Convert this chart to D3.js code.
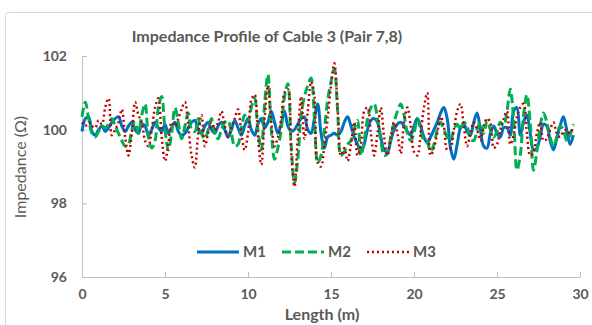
<!DOCTYPE html>
<html>
<head>
<meta charset="utf-8">
<script src="https://cdn.jsdelivr.net/npm/d3@7"></script>
<style>
  body { margin: 0; background: #fff; }
  text { font-family: Lato, "Open Sans", sans-serif; fill: #595959; }
</style>
</head>
<body>
<div id="chart"></div>
<script>
// cable length positions (m), one every 0.2 m
const lengths = d3.range(0, 149).map(i => +(i * 0.2).toFixed(1));

const m1 = [99.95,100.3,100.35,99.95,99.85,100.0,100.1,99.95,100.05,100.2,
  100.3,100.35,100.1,99.95,100.1,100.2,100.0,99.9,100.15,100.1,
  99.85,100.0,100.2,100.05,99.95,100.15,99.9,100.05,100.2,99.95,
  99.85,99.9,100.05,100.2,100.25,100.0,99.9,100.1,100.2,100.0,
  99.9,100.1,100.2,100.0,99.8,100.0,100.25,100.05,99.85,100.1,
  100.3,100.0,99.85,100.15,100.3,100.05,100.2,100.5,100.2,99.9,
  100.15,100.5,100.1,99.95,100.0,100.15,100.3,100.35,100.0,99.9,
  100.3,100.7,99.9,99.5,99.8,99.85,99.9,99.85,99.95,100.2,
  100.35,100.1,99.8,99.6,99.4,99.6,100.0,100.25,100.3,100.2,
  99.8,99.45,99.4,99.7,100.0,100.15,100.2,100.1,99.95,99.85,
  100.1,100.3,100.1,99.8,99.65,99.8,100.0,100.2,100.45,100.6,
  100.3,99.5,99.2,99.6,100.05,100.15,99.95,99.85,100.2,100.45,
  100.0,99.55,99.5,99.9,100.1,99.9,99.8,100.05,100.05,99.85,
  100.5,100.6,99.85,100.2,100.4,99.9,99.45,99.5,99.8,100.15,
  100.1,99.7,99.45,99.75,100.1,100.35,100.0,99.6,99.85];

const m2 = [100.35,100.75,100.3,99.9,99.8,99.95,100.1,100.05,100.15,100.3,
  100.1,99.9,99.7,99.55,99.6,100.0,100.2,99.9,100.4,100.7,
  99.8,99.5,99.7,100.6,100.9,100.0,99.45,99.9,100.6,100.2,
  99.75,100.1,100.45,100.0,99.95,100.3,99.9,99.75,100.0,100.3,
  99.9,99.75,100.0,100.2,100.25,99.9,99.55,99.6,100.05,100.4,
  100.2,100.6,100.85,100.0,99.45,100.7,101.5,100.0,99.2,99.5,
  100.0,100.9,101.25,99.6,98.55,99.2,100.4,100.9,101.2,101.4,
  100.3,99.1,99.3,100.0,100.8,101.3,101.65,100.5,99.3,99.4,
  99.6,99.7,100.0,100.25,99.3,99.7,100.3,100.6,100.7,100.3,
  99.7,99.3,99.35,99.8,100.2,100.5,100.7,100.4,99.9,99.7,
  99.9,100.3,100.0,99.7,99.65,99.4,99.6,100.0,100.2,100.0,
  99.8,99.7,100.0,100.15,100.0,100.2,100.1,99.75,99.7,100.0,
  100.2,99.9,100.25,100.0,99.8,99.95,100.2,100.1,100.5,101.1,
  100.3,98.9,99.3,100.4,100.95,100.2,98.9,99.4,100.1,100.45,
  100.2,99.8,99.55,99.8,100.1,100.0,99.7,99.85,100.15];

const m3 = [100.2,100.1,100.2,100.1,100.05,100.25,100.15,100.6,100.85,99.85,
  100.0,100.2,100.55,99.8,99.3,99.9,100.75,100.4,100.2,99.7,
  99.55,100.0,100.6,100.85,99.8,99.15,99.6,100.2,100.1,100.3,
  100.55,100.75,100.1,99.3,98.97,99.9,100.4,99.55,99.9,100.2,
  100.0,100.2,100.5,100.1,99.8,100.05,100.3,100.55,99.9,99.45,
  99.9,100.8,100.95,99.8,99.05,100.3,101.2,100.2,99.55,99.8,
  100.3,101.0,101.1,99.4,98.45,99.8,100.9,99.75,100.5,101.3,
  100.9,99.1,99.0,99.6,100.3,101.2,101.8,100.6,99.3,99.5,
  99.15,99.6,100.2,99.3,99.6,100.5,100.6,99.9,99.3,99.9,
  100.6,99.8,99.3,99.8,100.2,99.9,99.35,100.2,100.6,100.1,
  99.4,99.3,99.9,100.6,101.0,99.3,99.5,99.9,100.35,100.1,
  99.45,99.5,100.0,100.5,100.7,100.1,99.55,99.9,100.2,100.0,
  99.7,100.1,100.3,100.2,99.5,99.6,100.0,100.3,100.5,99.6,
  99.85,100.35,100.6,100.7,99.9,99.3,99.4,99.9,100.2,99.7,
  99.75,100.0,100.2,99.9,99.8,99.95,100.0,99.9,100.1];

const seriesNames = ['M1', 'M2', 'M3'];
const xTicks = [0, 5, 10, 15, 20, 25, 30];
const yTicks = [96, 98, 100, 102];

const series = [
  { name: 'M1', values: m1, color: '#0070c0', dash: null, width: 3 },
  { name: 'M2', values: m2, color: '#00b050', dash: '9,4', width: 3 },
  { name: 'M3', values: m3, color: '#c00000', dash: '2,3', width: 2.5 }
];

const W = 592, H = 325;
const margin = { top: 56, right: 12, bottom: 48, left: 82 };
const width = W - margin.left - margin.right;
const height = H - margin.top - margin.bottom;

const svg = d3.select('#chart').append('svg')
  .attr('width', W)
  .attr('height', H);

// chart area border
svg.append('rect')
  .attr('x', 5.5).attr('y', 12.5)
  .attr('width', W).attr('height', H)
  .attr('rx', 3)
  .style('fill', 'none')
  .style('stroke', '#d9d9d9');

svg.append('text')
  .attr('x', 267).attr('y', 42)
  .style('text-anchor', 'middle')
  .style('font-size', '16px')
  .style('font-weight', 'bold')
  .text('Impedance Profile of Cable 3 (Pair 7,8)');

const x = d3.scaleLinear().domain([0, 30]).range([0, width]);
const y = d3.scaleLinear().domain([96, 102]).range([height, 0]);

const g = svg.append('g')
  .attr('transform', `translate(${margin.left}, ${margin.top})`);

// x axis
const xAxis = g.append('g')
  .attr('transform', `translate(0, ${height})`)
  .call(d3.axisBottom(x).tickValues(xTicks).tickFormat(d3.format('d'))
    .tickSizeInner(-5).tickSizeOuter(0).tickPadding(12));

// y axis
const yAxis = g.append('g')
  .call(d3.axisLeft(y).tickValues(yTicks).tickFormat(d3.format('d'))
    .tickSizeInner(-5).tickSizeOuter(0).tickPadding(15));

[xAxis, yAxis].forEach(a => {
  a.select('.domain').style('stroke', '#bfbfbf');
  a.selectAll('.tick line').style('stroke', '#bfbfbf');
  a.selectAll('.tick text')
    .style('font-family', 'Lato, sans-serif')
    .style('font-size', '14px')
    .style('font-weight', 'bold')
    .style('fill', '#595959');
});

g.append('text')
  .attr('x', width / 2 - 9).attr('y', height + 43)
  .style('text-anchor', 'middle')
  .style('font-size', '16px')
  .style('font-weight', 'bold')
  .text('Length (m)');

g.append('text')
  .attr('transform', `translate(-56, ${111}) rotate(-90)`)
  .style('text-anchor', 'middle')
  .style('font-size', '16px')
  .text('Impedance (\u03a9)');

const line = d3.line()
  .x((d, i) => x(lengths[i]))
  .y(d => y(d))
  .curve(d3.curveCatmullRom);

series.forEach(s => {
  g.append('path')
    .datum(s.values)
    .attr('d', line)
    .style('fill', 'none')
    .style('stroke', s.color)
    .style('stroke-width', s.width)
    .style('stroke-dasharray', s.dash)
    .style('stroke-linejoin', 'round');
});

// legend
const legendX = [197, 282, 367];
const legend = svg.append('g').attr('transform', 'translate(0, 252)');
series.forEach((s, i) => {
  legend.append('line')
    .attr('x1', legendX[i]).attr('x2', legendX[i] + 42)
    .attr('y1', 0).attr('y2', 0)
    .style('stroke', s.color)
    .style('stroke-width', s.width)
    .style('stroke-dasharray', s.dash);
  legend.append('text')
    .attr('x', legendX[i] + 46).attr('y', 5)
    .style('font-size', '15px')
    .style('font-weight', 'bold')
    .text(seriesNames[i]);
});
</script>
</body>
</html>
